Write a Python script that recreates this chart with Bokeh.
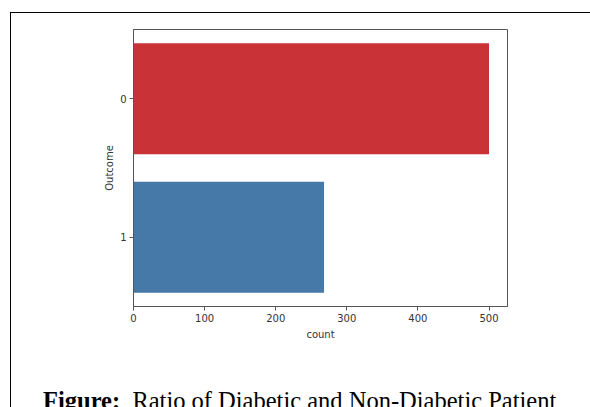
from bokeh.plotting import figure
from bokeh.layouts import column
from bokeh.models import FactorRange, Range1d, Div, FixedTicker, GlobalInlineStyleSheet
from bokeh.embed import file_html
from bokeh.resources import INLINE

# Data
categories = ["0", "1"]
counts = [500, 268]
colors = ["#c93236", "#4678a8"]
x_ticks = [0, 100, 200, 300, 400, 500]
caption_bold = "Figure:"
caption_text = "Ratio of Diabetic and Non-Diabetic Patient"

p = figure(width=590, height=384, output_backend="svg", toolbar_location=None,
           y_range=FactorRange(factors=list(reversed(categories))),
           x_range=Range1d(0, 526),
           min_border_left=133, min_border_right=83, min_border_top=29, min_border_bottom=78)

p.hbar(y=categories, right=counts, left=0, height=0.8, color=colors, line_color=None)

p.xgrid.visible = False
p.ygrid.visible = False
p.outline_line_color = "#555555"
p.outline_line_width = 1

p.xaxis.ticker = FixedTicker(ticks=x_ticks)
p.xaxis.axis_label = "count"
p.yaxis.axis_label = "Outcome"
for ax in (p.xaxis, p.yaxis):
    ax.axis_label_text_font = "DejaVu Sans"
    ax.axis_label_text_font_size = "10px"
    ax.axis_label_text_font_style = "normal"
    ax.axis_label_text_color = "#333333"
    ax.major_label_text_font = "DejaVu Sans"
    ax.major_label_text_font_size = "10px"
    ax.major_label_text_color = "#333333"
    ax.axis_line_color = "#555555"
    ax.major_tick_line_color = "#555555"
    ax.major_tick_out = 4
    ax.major_tick_in = 0
    ax.minor_tick_line_color = None
    ax.major_label_standoff = 3
p.xaxis.axis_label_standoff = 4
p.yaxis.axis_label_standoff = 2

cap = Div(text=f"<b>{caption_bold}</b>&nbsp; {caption_text}", width=590, height=23,
          styles={"font-family": "'Liberation Serif', 'Times New Roman', serif",
                  "font-size": "24.5px", "line-height": "23px", "color": "#000",
                  "padding-left": "38px", "white-space": "nowrap", "overflow": "visible"})

layout = column(p, cap, spacing=0)
layout.stylesheets = [
    GlobalInlineStyleSheet(css="html, body { overflow: hidden; } "
                               "body::after { content: ''; position: fixed; left: 10px; top: 12px; "
                               "right: -20px; bottom: -20px; border-top: 1.5px solid #000; "
                               "border-left: 1.5px solid #000; pointer-events: none; z-index: 1000; }"),
]

open("out.html", "w").write(file_html(layout, INLINE))
